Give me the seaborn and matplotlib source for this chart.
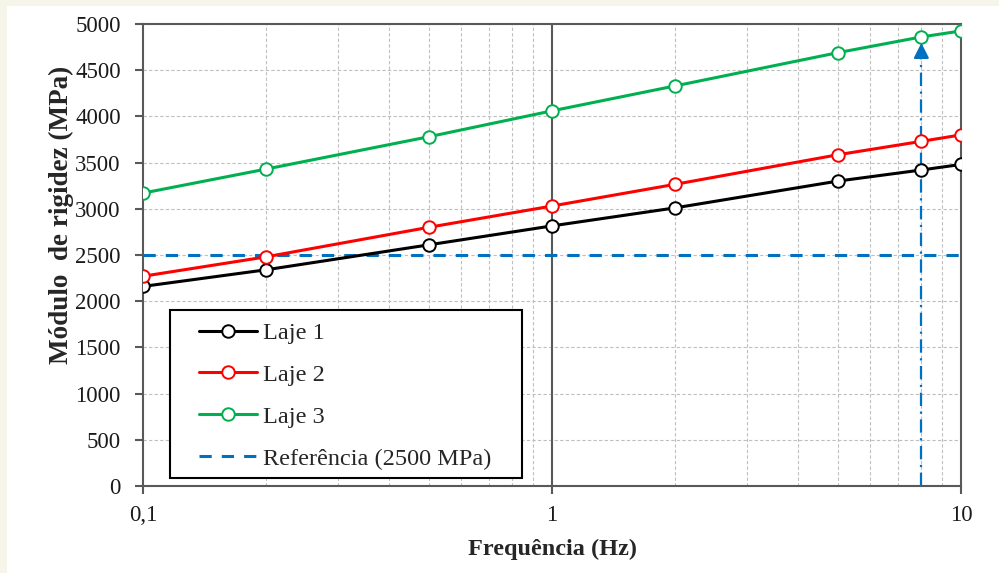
import matplotlib
matplotlib.use('Agg')
import matplotlib.pyplot as plt
import seaborn as sns
import pandas as pd
from matplotlib.patches import Rectangle
from matplotlib.ticker import FixedLocator, NullFormatter
from matplotlib.lines import Line2D

# Data
freq = [0.1, 0.2, 0.5, 1, 2, 5, 8, 10]
laje1 = [2160, 2340, 2610, 2815, 3010, 3300, 3420, 3480]
laje2 = [2270, 2480, 2800, 3030, 3265, 3585, 3730, 3800]
laje3 = [3170, 3430, 3780, 4060, 4330, 4690, 4860, 4925]
ref_value = 2500
arrow_freq = 8
arrow_top = 4825

series = ['Laje 1', 'Laje 2', 'Laje 3']
colors = ['#000000', '#ff0000', '#00b050']
blue = '#0070c0'

df = pd.DataFrame({
    'freq': freq * 3,
    'modulo': laje1 + laje2 + laje3,
    'laje': [s for s in series for _ in freq],
})

sns.set_theme(style='white')
plt.rcParams['font.family'] = ['Liberation Serif', 'DejaVu Serif']

fig = plt.figure(figsize=(9.99, 5.73), dpi=100)
fig.patch.set_facecolor('#f5f5ea')
fig.patches.append(Rectangle((7 / 999, 0), 1, 1 - 6 / 573, transform=fig.transFigure,
                             facecolor='white', edgecolor='none', zorder=-10))
ax = fig.add_axes([143 / 999, 1 - 486 / 573, 818 / 999, 462 / 573])
ax.set_facecolor('white')

# Series
for name, c in zip(series, colors):
    sub = df[df['laje'] == name]
    sns.lineplot(data=sub, x='freq', y='modulo', ax=ax, color=c, lw=2.2,
                 marker='o', markersize=9, markerfacecolor='white',
                 markeredgecolor=c, markeredgewidth=1.4, zorder=4, legend=False)

# Reference line
ax.axhline(ref_value, color=blue, lw=2.2, dashes=(4, 3.3), zorder=3)

# Vertical dash-dot with arrow
ax.plot([arrow_freq, arrow_freq], [0, arrow_top - 80], color=blue, lw=1.6,
        dashes=(6, 2.5, 1, 2.5), zorder=3)
ax.annotate('', xy=(arrow_freq, arrow_top), xytext=(arrow_freq, arrow_top - 130),
            arrowprops=dict(arrowstyle='-|>,head_length=0.75,head_width=0.38',
                            color=blue, lw=1.6), zorder=5)

ax.set_xscale('log')
ax.set_xlim(0.1, 10)
ax.set_ylim(0, 5000)
ax.set_yticks(range(0, 5001, 500))
ax.set_xticks([0.1, 1, 10])
ax.set_xticklabels(['0,1', '1', '10'])
ax.xaxis.set_minor_locator(FixedLocator([0.2, 0.3, 0.4, 0.5, 0.6, 0.7, 0.8, 0.9,
                                         2, 3, 4, 5, 6, 7, 8, 9]))
ax.xaxis.set_minor_formatter(NullFormatter())

# Grid
ax.grid(True, axis='y', which='major', color='#bfbfbf', lw=0.8, ls=(0, (3, 2)), zorder=0)
ax.grid(True, axis='x', which='minor', color='#bfbfbf', lw=0.8, ls=(0, (3, 2)), zorder=0)
ax.axvline(1, color='#595959', lw=1.5, zorder=1)
ax.set_axisbelow(True)

for sp in ax.spines.values():
    sp.set_color('#595959')
    sp.set_linewidth(1.5)

ax.tick_params(axis='both', which='major', direction='out', length=6, width=1.5,
               color='#595959', labelsize=16.5, labelcolor='#1a1a1a')
ax.tick_params(axis='y', pad=10)
ax.tick_params(axis='x', pad=8)
ax.tick_params(axis='x', which='minor', length=0)
ax.tick_params(left=True, bottom=True)

ax.set_xlabel('Frequência (Hz)', fontsize=17.5, fontweight='bold')
ax.xaxis.set_label_coords(0.5, -(539 - 486) / 462)
ax.set_ylabel('Módulo  de rigidez (MPa)', fontsize=19.5, fontweight='bold')
ax.yaxis.set_label_coords((74 - 143) / 818, (486 - 215) / 462)

# Legend with framed box
x0 = (170 - 143) / 818
y0 = (486 - 478) / 462
w = (522 - 170) / 818
h = (478 - 310) / 462
ax.add_patch(Rectangle((x0, y0), w, h, transform=ax.transAxes, facecolor='white',
                       edgecolor='black', lw=1.5, zorder=6))
handles = [Line2D([], [], color=c, lw=2.2, marker='o', markersize=9,
                  markerfacecolor='white', markeredgecolor=c, markeredgewidth=1.4)
           for c in colors]
handles.append(Line2D([], [], color=blue, lw=2.2, dashes=(4, 3.3)))
labels = series + ['Referência (2500 MPa)']
leg = ax.legend(handles, labels, loc='upper left', frameon=False,
                bbox_to_anchor=((199 - 143) / 818, (486 - 322) / 462),
                fontsize=17.5, handlelength=2.4, handletextpad=0.25,
                labelspacing=0.82, borderpad=0, borderaxespad=0)
leg.set_zorder(7)

fig.savefig('out.png', dpi=100, facecolor=fig.get_facecolor())
